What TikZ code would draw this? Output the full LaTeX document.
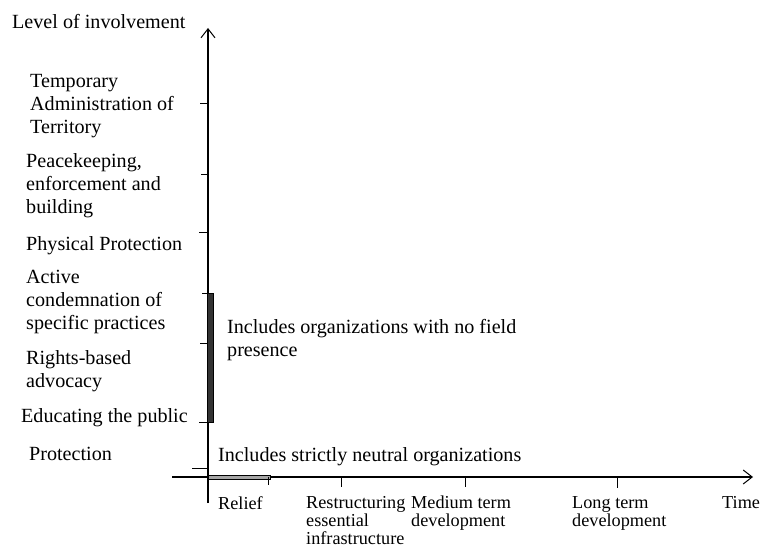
\documentclass[tikz,border=0pt]{standalone}
\usepackage{fontspec}
\setmainfont{Liberation Serif}
\usetikzlibrary{arrows.meta}
\begin{document}
\begin{tikzpicture}[x=1bp,y=-1bp,
  lbl/.style={inner sep=0pt, anchor=west, align=left, font=\fontsize{20.2}{23}\selectfont},
  blbl/.style={inner sep=0pt, anchor=north west, align=left, font=\fontsize{18.3}{18}\selectfont},
  axis/.style={line width=1.1bp},
  tick/.style={line width=1bp},
  tip/.style={-{Straight Barb[length=9bp,width=14bp,line width=1bp]}}]
\useasboundingbox (0,0) rectangle (765,555);
% axes
\coordinate (o) at (208,477);
\coordinate (ybot) at (208,503);
\coordinate (ytop) at (208,28);
\coordinate (xl) at (172,477);
\coordinate (xr) at (753,477);
\draw[axis,tip] (ybot) -- (ytop);
\draw[axis,tip] (xl) -- (xr);
% bars
\draw[line width=0.8bp, fill=black!80] (207,293) rectangle (213,422);
\draw[line width=0.8bp, fill=black!35] (208,475) rectangle (270,479.5);
% vertical ticks
\foreach \yy/\xx in {104/200,175/201,233/199,293/202,343/200,422/199,468/192}
  \draw[tick] (\xx,\yy) -- (208,\yy);
% horizontal ticks
\foreach \xx/\yy in {268/485,341/487,465/487,617/488}
  \draw[tick] (\xx,477) -- (\xx,\yy);
% labels
\node[lbl] (lev) at (12,22) {Level of involvement};
\node[lbl] (tat) at (30,106) {Temporary\\Administration of\\Territory};
\node[lbl] (peb) at (26,186) {Peacekeeping,\\enforcement and\\building};
\node[lbl] (pp) at (26,246) {Physical Protection};
\node[lbl] (acp) at (26,302) {Active\\condemnation of\\specific practices};
\node[lbl] (rba) at (26,371.5) {Rights-based\\advocacy};
\node[lbl] (etp) at (21,418) {Educating the public};
\node[lbl] (pro) at (29,454) {Protection};
\node[lbl] (nf) at (227,340.5) {Includes organizations with no field\\presence};
\node[lbl] (sn) at (218,457) {Includes strictly neutral organizations};
\node[blbl] (rel) at (218,496) {Relief};
\node[blbl] (rei) at (306,496) {Restructuring\\essential\\infrastructure};
\node[blbl] (mtd) at (411,496) {Medium term\\development};
\node[blbl] (ltd) at (572,496) {Long term\\development};
\node[blbl] (tim) at (722,496) {Time};
\end{tikzpicture}
\end{document}
